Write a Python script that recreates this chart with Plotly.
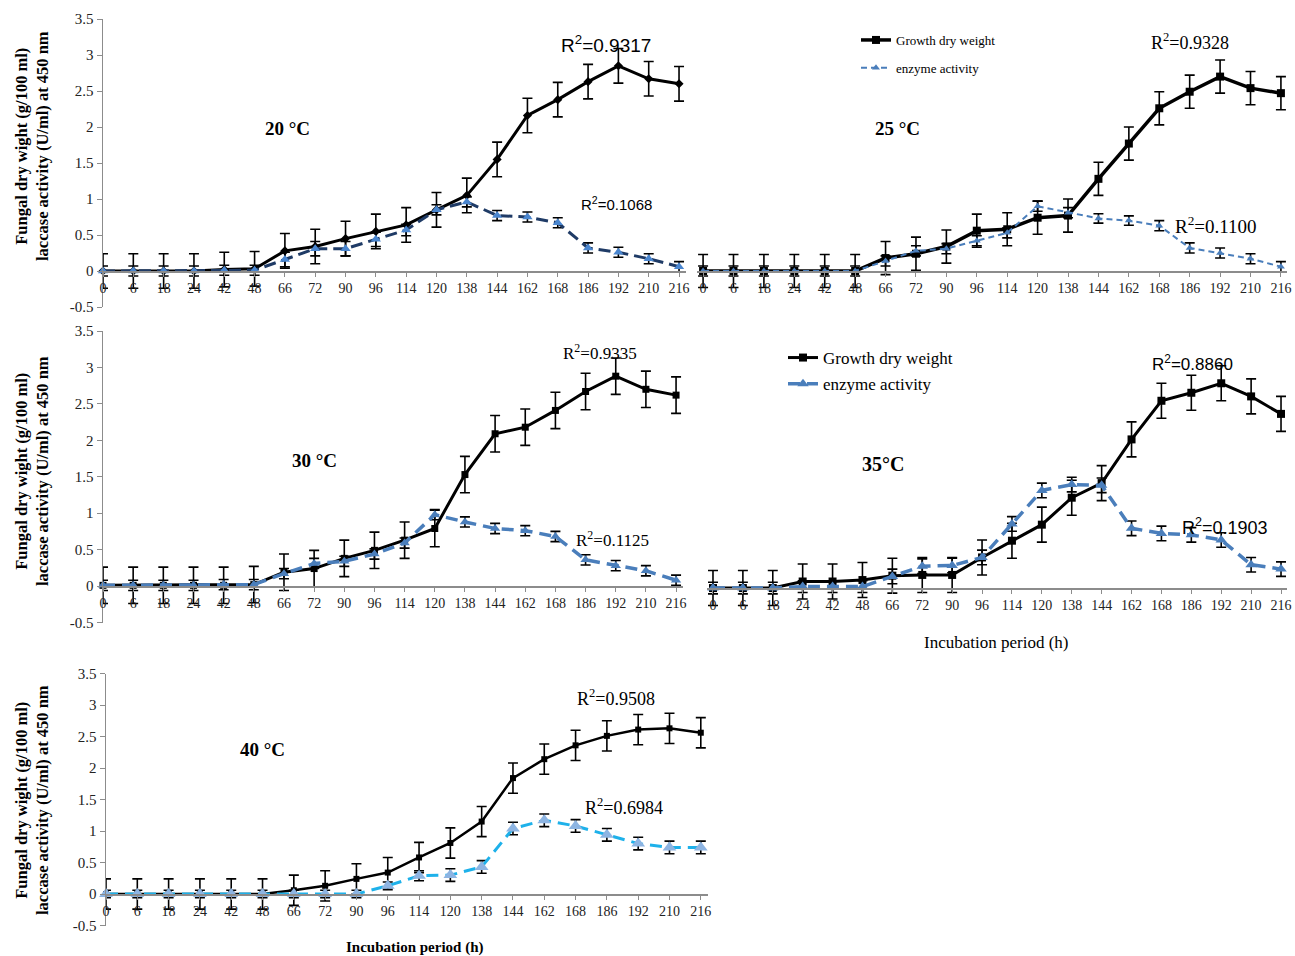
import plotly.graph_objects as go

W, H = 1295, 956

categories = ["0", "6", "18", "24", "42", "48", "66", "72", "90", "96",
              "114", "120", "138", "144", "162", "168", "186", "192", "210", "216"]

# ---- 20 °C ----
growth_20 = [0, 0, 0, 0, 0.02, 0.03, 0.28, 0.34, 0.45, 0.55, 0.64, 0.85, 1.05, 1.55, 2.16, 2.38, 2.63, 2.85, 2.67, 2.60]
growth_20_err = [0.24, 0.24, 0.24, 0.24, 0.24, 0.24, 0.24, 0.24, 0.24, 0.24, 0.24, 0.24, 0.24, 0.24, 0.24, 0.24, 0.24, 0.24, 0.24, 0.24]
enzyme_20 = [0, 0, 0, 0, 0.01, 0.01, 0.16, 0.31, 0.31, 0.44, 0.57, 0.85, 0.96, 0.77, 0.75, 0.67, 0.32, 0.26, 0.17, 0.06]
enzyme_20_err = [0.07, 0.07, 0.07, 0.07, 0.07, 0.07, 0.1, 0.1, 0.1, 0.1, 0.08, 0.07, 0.07, 0.07, 0.07, 0.07, 0.07, 0.07, 0.07, 0.07]

# ---- 25 °C ----
growth_25 = [0, 0, 0, 0, 0, 0, 0.18, 0.24, 0.34, 0.56, 0.58, 0.74, 0.77, 1.28, 1.77, 2.26, 2.49, 2.70, 2.54, 2.47]
growth_25_err = [0.23, 0.23, 0.23, 0.23, 0.23, 0.23, 0.23, 0.23, 0.23, 0.23, 0.23, 0.23, 0.23, 0.23, 0.23, 0.23, 0.23, 0.23, 0.23, 0.23]
enzyme_25 = [0, 0, 0, 0, 0, 0, 0.14, 0.28, 0.31, 0.42, 0.53, 0.90, 0.81, 0.73, 0.70, 0.63, 0.32, 0.25, 0.17, 0.06]
enzyme_25_err = [0.07, 0.07, 0.07, 0.07, 0.07, 0.07, 0.07, 0.07, 0.07, 0.07, 0.07, 0.07, 0.07, 0.065, 0.065, 0.07, 0.07, 0.07, 0.07, 0.07]

# ---- 30 °C ----
growth_30 = [0.01, 0.01, 0.01, 0.01, 0.01, 0.02, 0.19, 0.24, 0.38, 0.49, 0.63, 0.79, 1.53, 2.09, 2.18, 2.41, 2.67, 2.88, 2.70, 2.62]
growth_30_err = [0.25, 0.25, 0.25, 0.25, 0.25, 0.25, 0.25, 0.25, 0.25, 0.25, 0.25, 0.25, 0.25, 0.25, 0.25, 0.25, 0.25, 0.25, 0.25, 0.25]
enzyme_30 = [0.01, 0.01, 0.01, 0.01, 0.02, 0.02, 0.17, 0.31, 0.34, 0.44, 0.59, 0.98, 0.88, 0.79, 0.76, 0.68, 0.36, 0.28, 0.21, 0.08]
enzyme_30_err = [0.07, 0.07, 0.07, 0.07, 0.07, 0.07, 0.07, 0.07, 0.07, 0.07, 0.07, 0.07, 0.07, 0.07, 0.07, 0.07, 0.07, 0.07, 0.07, 0.07]

# ---- 35 °C ----
growth_35 = [0, 0, 0, 0.09, 0.09, 0.11, 0.17, 0.18, 0.18, 0.42, 0.65, 0.87, 1.24, 1.44, 2.04, 2.57, 2.68, 2.81, 2.63, 2.39]
growth_35_err = [0.24, 0.24, 0.24, 0.24, 0.24, 0.24, 0.24, 0.24, 0.24, 0.24, 0.24, 0.24, 0.24, 0.24, 0.24, 0.24, 0.24, 0.24, 0.24, 0.24]
enzyme_35 = [0, 0, 0, 0.02, 0.02, 0.02, 0.16, 0.30, 0.31, 0.42, 0.88, 1.34, 1.42, 1.41, 0.82, 0.75, 0.73, 0.66, 0.32, 0.26]
enzyme_35_err = [0.08, 0.08, 0.08, 0.08, 0.08, 0.08, 0.1, 0.1, 0.1, 0.1, 0.1, 0.1, 0.1, 0.1, 0.1, 0.1, 0.1, 0.1, 0.1, 0.1]

# ---- 40 °C ----
growth_40 = [0, 0, 0, 0, 0, 0, 0.06, 0.13, 0.24, 0.34, 0.58, 0.81, 1.15, 1.84, 2.14, 2.36, 2.51, 2.61, 2.63, 2.56]
growth_40_err = [0.24, 0.24, 0.24, 0.24, 0.24, 0.24, 0.24, 0.24, 0.24, 0.24, 0.24, 0.24, 0.24, 0.24, 0.24, 0.24, 0.24, 0.24, 0.24, 0.24]
enzyme_40 = [0, 0, 0, 0, 0, 0, 0, 0, 0, 0.13, 0.29, 0.30, 0.43, 1.04, 1.17, 1.08, 0.94, 0.80, 0.74, 0.74]
enzyme_40_err = [0.06, 0.06, 0.06, 0.06, 0.06, 0.06, 0.06, 0.06, 0.06, 0.06, 0.08, 0.1, 0.1, 0.1, 0.1, 0.1, 0.1, 0.1, 0.1, 0.1]

y_tick_vals = [3.5, 3, 2.5, 2, 1.5, 1, 0.5, 0, -0.5]
y_tick_text = ["3.5", "3", "2.5", "2", "1.5", "1", "0.5", "0", "-0.5"]

r2_labels = {
    "20g": "R<sup>2</sup>=0.9317", "20e": "R<sup>2</sup>=0.1068",
    "25g": "R<sup>2</sup>=0.9328", "25e": "R<sup>2</sup>=0.1100",
    "30g": "R<sup>2</sup>=0.9335", "30e": "R<sup>2</sup>=0.1125",
    "35g": "R<sup>2</sup>=0.8860", "35e": "R<sup>2</sup>=0.1903",
    "40g": "R<sup>2</sup>=0.9508", "40e": "R<sup>2</sup>=0.6984",
}
panel_titles = ["20 °C", "25 °C", "30 °C", "35°C", "40 °C"]
y_title = "Fungal dry wight (g/100 ml)<br>laccase activity (U/ml) at 450 nm"
x_title = "Incubation period (h)"
series_names = ["Growth dry weight", "enzyme activity"]

SERIF = "Liberation Serif, Times New Roman, serif"
SANS = "Liberation Sans, Arial, sans-serif"
AXIS_COLOR = "#8c8c8c"


def px(x):
    return x / W


def py(y):
    return 1 - y / H


# panel geometry in pixels
panels = [
    dict(x0=103, x1=686, yt=19, yb=307, xr=[0, 19.23], showy=True),
    dict(x0=697, x1=1287, yt=19, yb=307, xr=[-0.2, 19.2], showy=False),
    dict(x0=103, x1=683, yt=331, yb=622.5, xr=[0, 19.23], showy=True),
    dict(x0=707, x1=1287, yt=333, yb=624.5, xr=[-0.2, 19.2], showy=False),
    dict(x0=106, x1=708, yt=673.5, yb=925.5, xr=[0, 19.23], showy=True),
]

growth_data = [(growth_20, growth_20_err), (growth_25, growth_25_err), (growth_30, growth_30_err),
               (growth_35, growth_35_err), (growth_40, growth_40_err)]
enzyme_data = [(enzyme_20, enzyme_20_err), (enzyme_25, enzyme_25_err), (enzyme_30, enzyme_30_err),
               (enzyme_35, enzyme_35_err), (enzyme_40, enzyme_40_err)]

growth_style = [
    dict(lw=3, sym="diamond", ms=7),
    dict(lw=3.5, sym="square", ms=8),
    dict(lw=3, sym="square", ms=7),
    dict(lw=3, sym="square", ms=8),
    dict(lw=2.5, sym="square", ms=6),
]
enzyme_style = [
    dict(lc="#1f3b66", lw=3, dash="12px,6px", mc="#4a86cf", ms=9),
    dict(lc="#4a7ebb", lw=2, dash="6px,4px", mc="#4a7ebb", ms=7),
    dict(lc="#4a7ebb", lw=3.5, dash="12px,7px", mc="#4a7ebb", ms=9),
    dict(lc="#4a7ebb", lw=3.5, dash="12px,7px", mc="#4a7ebb", ms=10),
    dict(lc="#1eb1ea", lw=3, dash="12px,7px", mc="#8db4e2", ms=12),
]
legend_of = {1: "legend", 3: "legend2"}

fig = go.Figure()
layout = {}

for i, p in enumerate(panels):
    n = "" if i == 0 else str(i + 1)
    xa, ya = "x" + n, "y" + n
    g, ge = growth_data[i]
    e, ee = enzyme_data[i]
    gs, es = growth_style[i], enzyme_style[i]
    show = i in legend_of
    leg = legend_of.get(i, "legend")
    fig.add_trace(go.Scatter(
        x=categories, y=g, xaxis=xa, yaxis=ya, mode="lines+markers",
        name=series_names[0], showlegend=show, legend=leg, legendgroup=f"g{i}",
        line=dict(color="black", width=gs["lw"]),
        marker=dict(symbol=gs["sym"], size=gs["ms"], color="black"),
        error_y=dict(type="data", array=ge, color="black", thickness=1.6, width=5),
        cliponaxis=False,
    ))
    fig.add_trace(go.Scatter(
        x=categories, y=e, xaxis=xa, yaxis=ya, mode="lines+markers",
        name=series_names[1], showlegend=show, legend=leg, legendgroup=f"e{i}",
        line=dict(color=es["lc"], width=es["lw"], dash=es["dash"]),
        marker=dict(symbol="triangle-up", size=es["ms"], color=es["mc"]),
        error_y=dict(type="data", array=ee, color="black", thickness=1.6, width=5),
        cliponaxis=False,
    ))

    ydom = [py(p["yb"]), py(p["yt"])]
    zero_px = p["yb"] - (p["yb"] - p["yt"]) * 0.5 / 4.0
    layout["xaxis" + n] = dict(
        domain=[px(p["x0"]), px(p["x1"])], type="category", range=p["xr"],
        anchor="free", position=py(zero_px), automargin=False,
        showline=True, linecolor=AXIS_COLOR, linewidth=1.5,
        ticks="outside", ticklen=4, tickcolor=AXIS_COLOR,
        showgrid=False, zeroline=False,
        tickfont=dict(family=SERIF, size=14, color="#222"),
        fixedrange=True,
    )
    yaxis = dict(
        domain=ydom, range=[-0.5, 3.5], anchor=xa, automargin=False,
        showgrid=False, zeroline=False, fixedrange=True,
    )
    if p["showy"]:
        yaxis.update(
            showline=True, linecolor=AXIS_COLOR, linewidth=1.5,
            ticks="outside", ticklen=5, tickcolor=AXIS_COLOR,
            tickvals=y_tick_vals, ticktext=y_tick_text,
            tickfont=dict(family=SERIF, size=15, color="#222"),
        )
    else:
        yaxis.update(showline=False, showticklabels=False, ticks="")
    layout["yaxis" + n] = yaxis

annotations = []


def ann(text, x, y, family, size, bold=False, angle=0):
    t = f"<b>{text}</b>" if bold else text
    annotations.append(dict(text=t, x=px(x), y=py(y), xref="paper", yref="paper",
                            showarrow=False, xanchor="center", yanchor="middle",
                            textangle=angle, font=dict(family=family, size=size, color="black")))


# panel titles
ann(panel_titles[0], 287, 128, SERIF, 19, bold=True)
ann(panel_titles[1], 897, 128, SERIF, 19, bold=True)
ann(panel_titles[2], 314, 460, SERIF, 19, bold=True)
ann(panel_titles[3], 883, 464, SERIF, 20, bold=True)
ann(panel_titles[4], 262, 749, SERIF, 19, bold=True)

# R² labels
ann(r2_labels["20g"], 606, 44, SANS, 19)
ann(r2_labels["20e"], 616, 204, SANS, 15)
ann(r2_labels["25g"], 1190, 42, SERIF, 18)
ann(r2_labels["25e"], 1216, 225, SERIF, 19)
ann(r2_labels["30g"], 600, 352, SERIF, 17)
ann(r2_labels["30e"], 612, 539, SERIF, 17)
ann(r2_labels["35g"], 1192, 363, SANS, 17)
ann(r2_labels["35e"], 1225, 526, SANS, 18)
ann(r2_labels["40g"], 616, 697, SERIF, 18)
ann(r2_labels["40e"], 624, 806, SERIF, 18)

# y axis titles
for yc in (146, 471, 800):
    ann(y_title, 32, yc, SERIF, 16.5, bold=True, angle=-90)

# x axis titles
ann(x_title, 996, 642, SERIF, 17)
ann(x_title, 415, 947, SERIF, 15, bold=True)

fig.update_layout(
    width=W, height=H,
    margin=dict(l=0, r=0, t=0, b=0, autoexpand=False),
    paper_bgcolor="white", plot_bgcolor="rgba(0,0,0,0)",
    annotations=annotations,
    legend=dict(x=px(856), y=py(25), xanchor="left", yanchor="top",
                font=dict(family=SERIF, size=13, color="black"),
                bgcolor="rgba(0,0,0,0)", tracegroupgap=8),
    legend2=dict(x=px(783), y=py(340), xanchor="left", yanchor="top",
                 font=dict(family=SERIF, size=17, color="black"),
                 bgcolor="rgba(0,0,0,0)", tracegroupgap=1),
    **layout,
)

fig.write_html("out.html",
               config={"displayModeBar": False, "staticPlot": True},
               post_script="document.body.style.margin='0';document.body.style.padding='0';"
                           "document.documentElement.style.overflow='hidden';")
